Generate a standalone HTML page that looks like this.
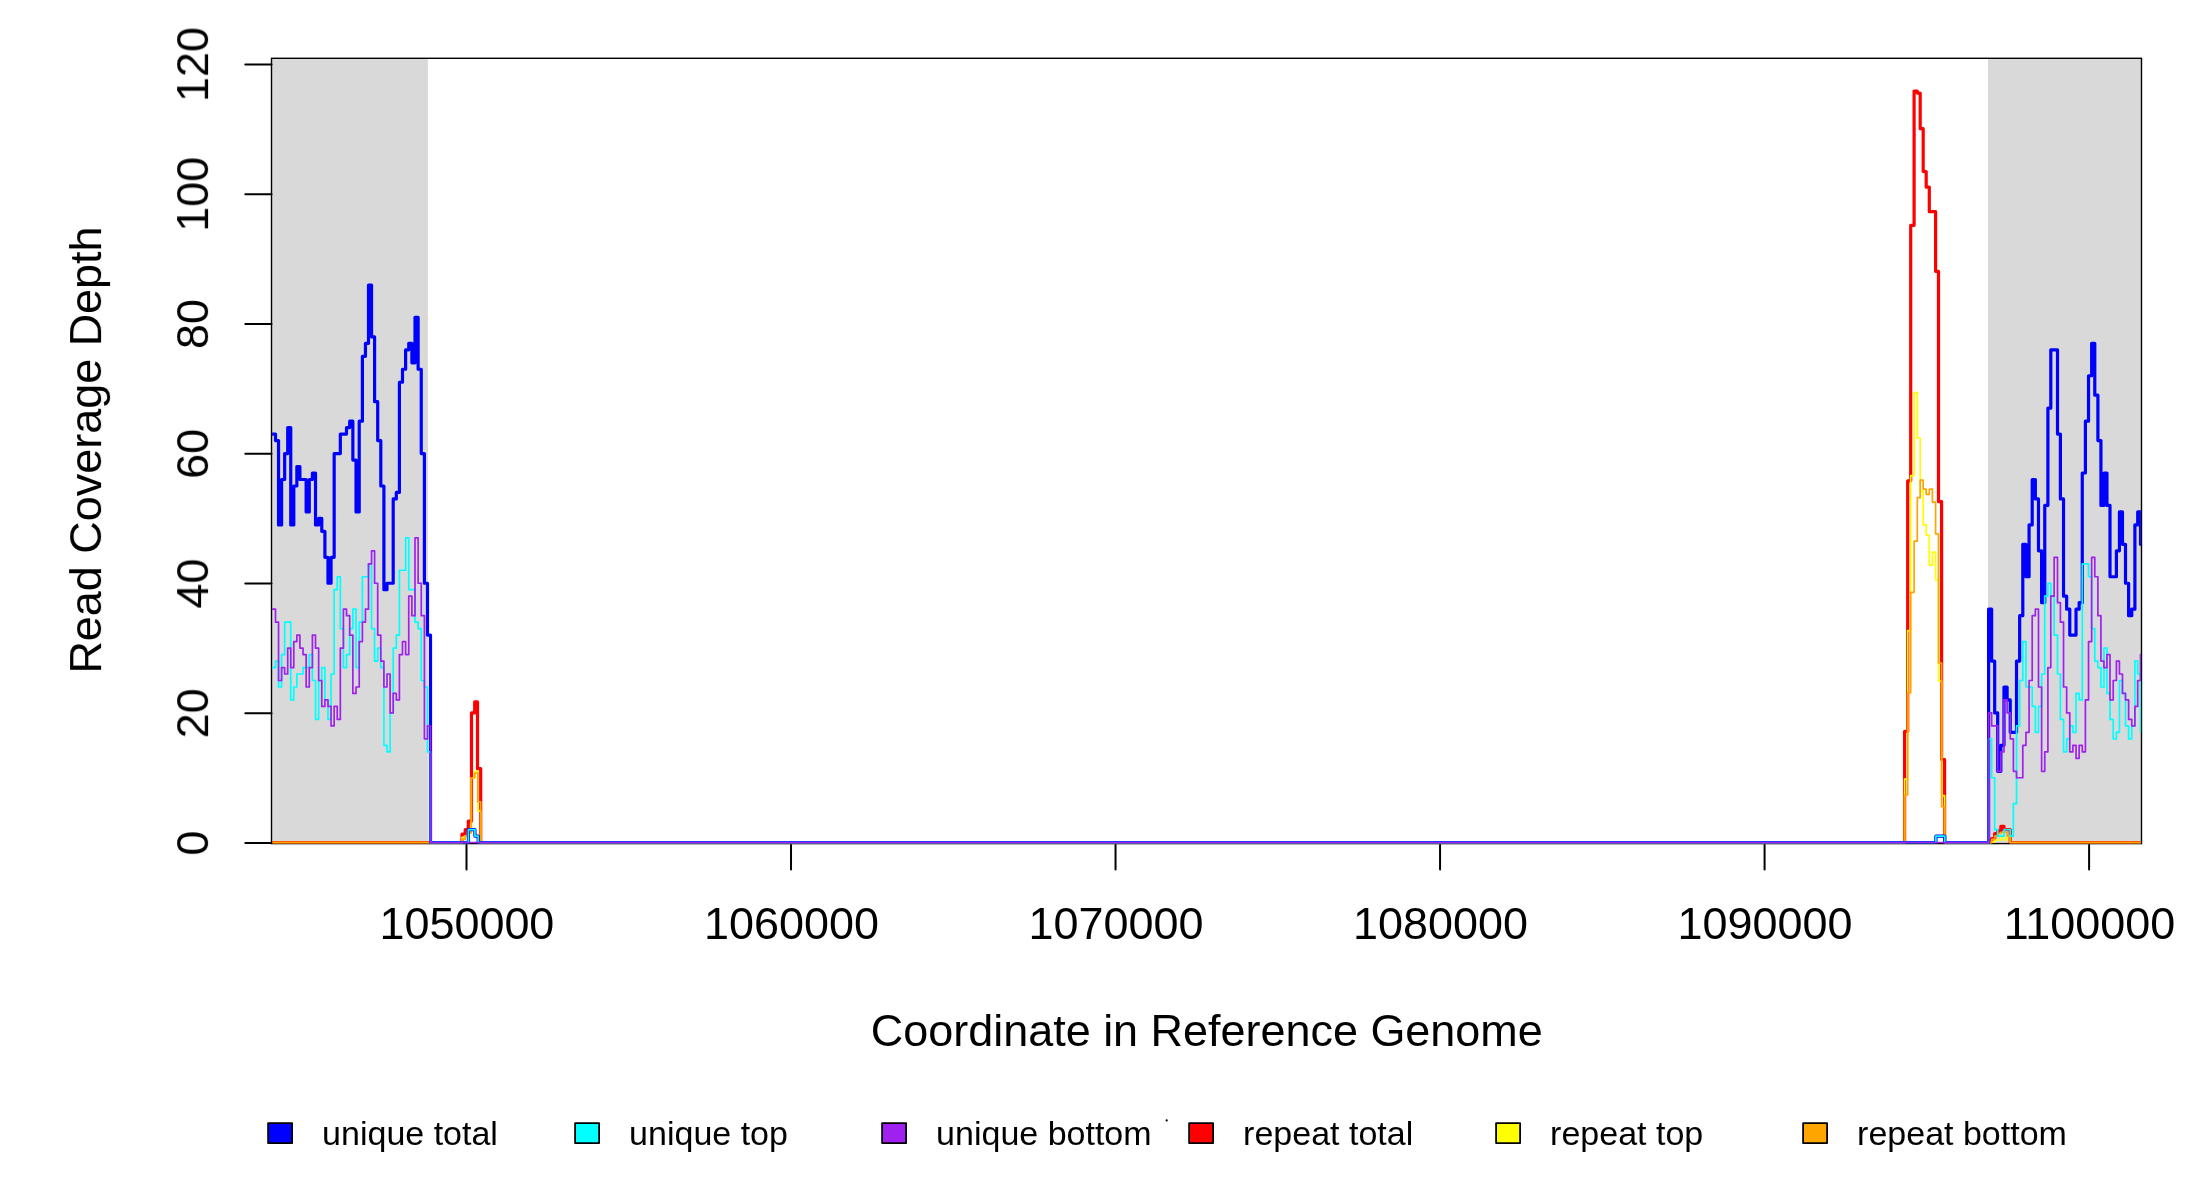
<!DOCTYPE html>
<html><head><meta charset="utf-8"><title>Coverage plot</title>
<style>html,body{margin:0;padding:0;background:#fff;overflow:hidden}svg{display:block} text{will-change:transform}</style>
</head><body>
<svg width="2200" height="1200" viewBox="0 0 2200 1200" font-family="'Liberation Sans', sans-serif">
<rect width="2200" height="1200" fill="#fff"/>
<rect x="271.5" y="58.3" width="156.4" height="785.3" fill="#d9d9d9"/>
<rect x="1988.0" y="58.3" width="153.5" height="785.3" fill="#d9d9d9"/>
<rect x="271.5" y="58.3" width="1870.0" height="785.3" fill="none" stroke="#000" stroke-width="1.4"/>
<clipPath id="pc"><rect x="272.1" y="58.9" width="1868.8" height="784.7"/></clipPath>
<g fill="none" stroke-linejoin="round" stroke-linecap="round" clip-path="url(#pc)">
<path d="M271.50 842.60H462.00V834.17H465.20V829.63H468.30V821.20H471.50V712.92H474.70V701.90H477.50V768.68H480.70V842.60H1904.60V731.40H1907.70V480.79H1910.70V225.32H1914.10V91.10H1917.30V93.05H1920.20V128.71H1923.20V171.51H1926.20V187.07H1929.30V211.71H1932.40H1935.60V271.36H1938.50V501.54H1941.60V759.60H1944.60V842.60H1991.63V838.71H1994.67V833.52H1997.70V830.93H2000.84V826.39H2003.98V829.63H2007.11H2010.25V842.60H2141.50" stroke="#ff0000" stroke-width="3.2"/>
<path d="M271.50 842.60H462.00V837.41H465.20V836.12H468.30V830.93H471.30V777.76H474.70V771.28H477.80V810.83H480.70V842.60H1904.60V779.06H1907.70V630.57H1910.70V475.61H1914.10V392.61H1917.30V438.00H1920.20V491.17H1923.20V524.88H1926.20V535.26H1929.30V565.08H1932.40V552.12H1935.60V580.00H1938.50V681.15H1941.60V795.59H1944.60V842.60H1991.63V841.95H1994.67V840.01H1997.70H2000.84V836.76H2003.98V840.01H2007.11V836.12H2010.25V842.60H2141.50" stroke="#ffff00" stroke-width="1.7"/>
<path d="M271.50 842.60H462.00V839.36H465.20V836.12H468.30V832.87H471.30V777.76H474.70V773.22H477.80V801.75H480.70V842.60H1904.60V794.94H1907.70V692.82H1910.70V592.32H1914.10V541.09H1917.30V497.65H1920.20V480.14H1923.20V489.22H1926.20V494.41H1929.30V489.22H1932.40V502.19H1935.60V533.96H1938.50V662.99H1941.60V806.61H1944.60V842.60H1991.63V839.36H1994.67V836.12H1997.70V833.52H2000.84V832.23H2003.98H2007.11V836.12H2010.25V842.60H2141.50" stroke="#ffa500" stroke-width="1.7"/>
<path d="M271.50 434.11H275.50V440.59H278.55V524.88H281.60V479.50H284.65V453.56H287.70V427.62H290.75V524.88H293.80V485.98H296.85V466.53H299.90V479.50H303.02H306.15V511.92H309.27V479.50H312.40V473.01H315.52V524.88H318.65V518.40H321.77V531.37H324.90V557.30H327.99V583.24H331.07V557.30H334.16V453.56H337.24H340.33V434.11H343.41H346.50V427.62H349.68V421.14H352.86V460.04H356.04V511.92H359.22V421.14H362.40V356.30H365.45V343.33H368.50V284.98H371.55V336.85H374.60V401.69H377.70V440.59H380.80V485.98H383.90V589.72H387.00V583.24H390.10H393.20V498.95H396.30V492.46H399.40V382.24H402.50V369.27H405.62V349.82H408.75V343.33H411.88V362.78H415.00V317.40H418.12V369.27H421.25V453.56H424.40V583.24H427.50V635.11H430.50V842.60H468.40V829.63H474.90V836.12H478.20V842.60H1935.90V836.12H1944.80V842.60H1988.60V609.18H1991.63V661.05H1994.67V712.92H1997.70V771.28H2000.84V745.34H2003.98V686.98H2007.11V699.95H2010.25V732.37H2013.39H2016.53V661.05H2019.66V615.66H2022.80V544.34H2025.94V576.76H2029.08V524.88H2032.21V479.50H2035.35V498.95H2038.49V550.82H2041.62V602.69H2044.76V505.43H2047.90V408.17H2050.80V349.82H2054.15H2057.50V434.11H2060.40V498.95H2063.53V596.21H2066.65V609.18H2069.78V635.11H2072.90H2076.03V609.18H2079.15V602.69H2082.28V473.01H2085.40V421.14H2088.53V375.75H2091.65V343.33H2094.78V395.20H2097.90V440.59H2100.93V505.43H2103.95V473.01H2106.97V505.43H2110.00V576.76H2113.20H2116.40V550.82H2119.43V511.92H2122.47V544.34H2125.50V583.24H2128.63V615.66H2131.77V609.18H2134.90V524.88H2137.70V511.92H2140.50V544.34H2141.50" stroke="#0000ff" stroke-width="3.2"/>
<path d="M271.50 667.53H275.50V661.05H278.55V686.98H281.60V654.56H284.65V622.14H287.70H290.75V699.95H293.80V686.98H296.85V674.02H299.90H303.02V667.53H306.15H309.27V654.56H312.40V680.50H315.52V719.40H318.65V680.50H321.77V667.53H324.90V699.95H327.99V719.40H331.07V674.02H334.16V589.72H337.24V576.76H340.33V628.63H343.41V667.53H346.50V654.56H349.68V628.63H352.86V609.18H356.04V667.53H359.22V622.14H362.40V576.76H365.45H368.50V563.79H371.55V628.63H374.60V661.05H377.70V648.08H380.80V667.53H383.90V745.34H387.00V751.82H390.10V712.92H393.20V648.08H396.30V635.11H399.40V570.27H402.50H405.62V537.85H408.75V589.72H411.88H415.00V622.14H418.12V628.63H421.25V680.50H424.40V686.98H427.50V751.82H430.50V842.60H468.40V829.63H474.90V836.12H478.20V842.60H1935.90V836.12H1944.80V842.60H1988.60V738.86H1991.63V777.76H1994.67V829.63H1997.70V836.12H2000.84H2003.98V829.63H2007.11H2010.25V836.12H2013.39V803.70H2016.53V725.89H2019.66V680.50H2022.80V641.60H2025.94V686.98H2029.08H2032.21V706.44H2035.35V732.37H2038.49V706.44H2041.62V674.02H2044.76V596.21H2047.90V583.24H2050.80V596.21H2054.15V635.11H2057.50V674.02H2060.40V719.40H2063.53V751.82H2066.65V738.86H2069.78V725.89H2072.90V732.37H2076.03V693.47H2079.15V699.95H2082.28V563.79H2085.40H2088.53V576.76H2091.65V628.63H2094.78V661.05H2097.90V667.53H2100.93V686.98H2103.95V648.08H2106.97V693.47H2110.00V719.40H2113.20V738.86H2116.40V732.37H2119.43V680.50H2122.47V693.47H2125.50V725.89H2128.63V738.86H2131.77V725.89H2134.90V661.05H2137.70V674.02H2140.50V732.37H2141.50" stroke="#00ffff" stroke-width="1.7"/>
<path d="M271.50 609.18H275.50V622.14H278.55V680.50H281.60V667.53H284.65V674.02H287.70V648.08H290.75V667.53H293.80V641.60H296.85V635.11H299.90V648.08H303.02V654.56H306.15V686.98H309.27V667.53H312.40V635.11H315.52V648.08H318.65V680.50H321.77V706.44H324.90V699.95H327.99V706.44H331.07V725.89H334.16V706.44H337.24V719.40H340.33V648.08H343.41V609.18H346.50V615.66H349.68V635.11H352.86V693.47H356.04V686.98H359.22V641.60H362.40V622.14H365.45V609.18H368.50V563.79H371.55V550.82H374.60V583.24H377.70V635.11H380.80V661.05H383.90V686.98H387.00V674.02H390.10V712.92H393.20V693.47H396.30V699.95H399.40V654.56H402.50V641.60H405.62V654.56H408.75V596.21H411.88V615.66H415.00V537.85H418.12V583.24H421.25V615.66H424.40V738.86H427.50V725.89H430.50V842.60H1988.60V712.92H1991.63V725.89H1994.67H1997.70V771.28H2000.84V751.82H2003.98V699.95H2007.11V712.92H2010.25V738.86H2013.39V771.28H2016.53V777.76H2019.66H2022.80V745.34H2025.94V732.37H2029.08V680.50H2032.21V615.66H2035.35V609.18H2038.49V686.98H2041.62V771.28H2044.76V751.82H2047.90V667.53H2050.80V596.21H2054.15V557.30H2057.50V602.69H2060.40V622.14H2063.53V686.98H2066.65V712.92H2069.78V751.82H2072.90V745.34H2076.03V758.31H2079.15V745.34H2082.28V751.82H2085.40V699.95H2088.53V641.60H2091.65V557.30H2094.78V576.76H2097.90V615.66H2100.93V661.05H2103.95V667.53H2106.97V654.56H2110.00V699.95H2113.20V680.50H2116.40V661.05H2119.43V674.02H2122.47V693.47H2125.50V699.95H2128.63V719.40H2131.77V725.89H2134.90V706.44H2137.70V680.50H2140.50V654.56H2141.50" stroke="#a020f0" stroke-width="1.7"/>
</g>
<path d="M245.3 843.10H271.5" stroke="#000" stroke-width="2" stroke-linecap="round"/>
<text transform="translate(208.1 843.10) rotate(-90)" text-anchor="middle" font-size="44.95">0</text>
<path d="M245.3 713.34H271.5" stroke="#000" stroke-width="2" stroke-linecap="round"/>
<text transform="translate(208.1 713.34) rotate(-90)" text-anchor="middle" font-size="44.95">20</text>
<path d="M245.3 583.58H271.5" stroke="#000" stroke-width="2" stroke-linecap="round"/>
<text transform="translate(208.1 583.58) rotate(-90)" text-anchor="middle" font-size="44.95">40</text>
<path d="M245.3 453.82H271.5" stroke="#000" stroke-width="2" stroke-linecap="round"/>
<text transform="translate(208.1 453.82) rotate(-90)" text-anchor="middle" font-size="44.95">60</text>
<path d="M245.3 324.06H271.5" stroke="#000" stroke-width="2" stroke-linecap="round"/>
<text transform="translate(208.1 324.06) rotate(-90)" text-anchor="middle" font-size="44.95">80</text>
<path d="M245.3 194.30H271.5" stroke="#000" stroke-width="2" stroke-linecap="round"/>
<text transform="translate(208.1 194.30) rotate(-90)" text-anchor="middle" font-size="44.95">100</text>
<path d="M245.3 64.54H271.5" stroke="#000" stroke-width="2" stroke-linecap="round"/>
<text transform="translate(208.1 64.54) rotate(-90)" text-anchor="middle" font-size="44.95">120</text>
<path d="M466.50 845V869.5" stroke="#000" stroke-width="2" stroke-linecap="round"/>
<text x="466.90" y="939" text-anchor="middle" font-size="44.95">1050000</text>
<path d="M791.02 845V869.5" stroke="#000" stroke-width="2" stroke-linecap="round"/>
<text x="791.42" y="939" text-anchor="middle" font-size="44.95">1060000</text>
<path d="M1115.54 845V869.5" stroke="#000" stroke-width="2" stroke-linecap="round"/>
<text x="1115.94" y="939" text-anchor="middle" font-size="44.95">1070000</text>
<path d="M1440.06 845V869.5" stroke="#000" stroke-width="2" stroke-linecap="round"/>
<text x="1440.46" y="939" text-anchor="middle" font-size="44.95">1080000</text>
<path d="M1764.58 845V869.5" stroke="#000" stroke-width="2" stroke-linecap="round"/>
<text x="1764.98" y="939" text-anchor="middle" font-size="44.95">1090000</text>
<path d="M2089.10 845V869.5" stroke="#000" stroke-width="2" stroke-linecap="round"/>
<text x="2089.50" y="939" text-anchor="middle" font-size="44.95">1100000</text>
<text x="1206.8" y="1046.1" text-anchor="middle" font-size="44.95">Coordinate in Reference Genome</text>
<text transform="translate(101.1 450) rotate(-90)" text-anchor="middle" font-size="44.95">Read Coverage Depth</text>
<rect x="268.10" y="1123.1" width="24" height="20" fill="#0000ff" stroke="#000" stroke-width="1.8" stroke-linejoin="round"/>
<text x="322.10" y="1145" font-size="34">unique total</text>
<rect x="575.10" y="1123.1" width="24" height="20" fill="#00ffff" stroke="#000" stroke-width="1.8" stroke-linejoin="round"/>
<text x="629.10" y="1145" font-size="34">unique top</text>
<rect x="882.10" y="1123.1" width="24" height="20" fill="#a020f0" stroke="#000" stroke-width="1.8" stroke-linejoin="round"/>
<text x="936.10" y="1145" font-size="34">unique bottom</text>
<rect x="1189.10" y="1123.1" width="24" height="20" fill="#ff0000" stroke="#000" stroke-width="1.8" stroke-linejoin="round"/>
<text x="1243.10" y="1145" font-size="34">repeat total</text>
<rect x="1496.10" y="1123.1" width="24" height="20" fill="#ffff00" stroke="#000" stroke-width="1.8" stroke-linejoin="round"/>
<text x="1550.10" y="1145" font-size="34">repeat top</text>
<rect x="1803.10" y="1123.1" width="24" height="20" fill="#ffa500" stroke="#000" stroke-width="1.8" stroke-linejoin="round"/>
<text x="1857.10" y="1145" font-size="34">repeat bottom</text>
<circle cx="1166.7" cy="1120.4" r="1.1" fill="#000"/>
</svg>
</body></html>
